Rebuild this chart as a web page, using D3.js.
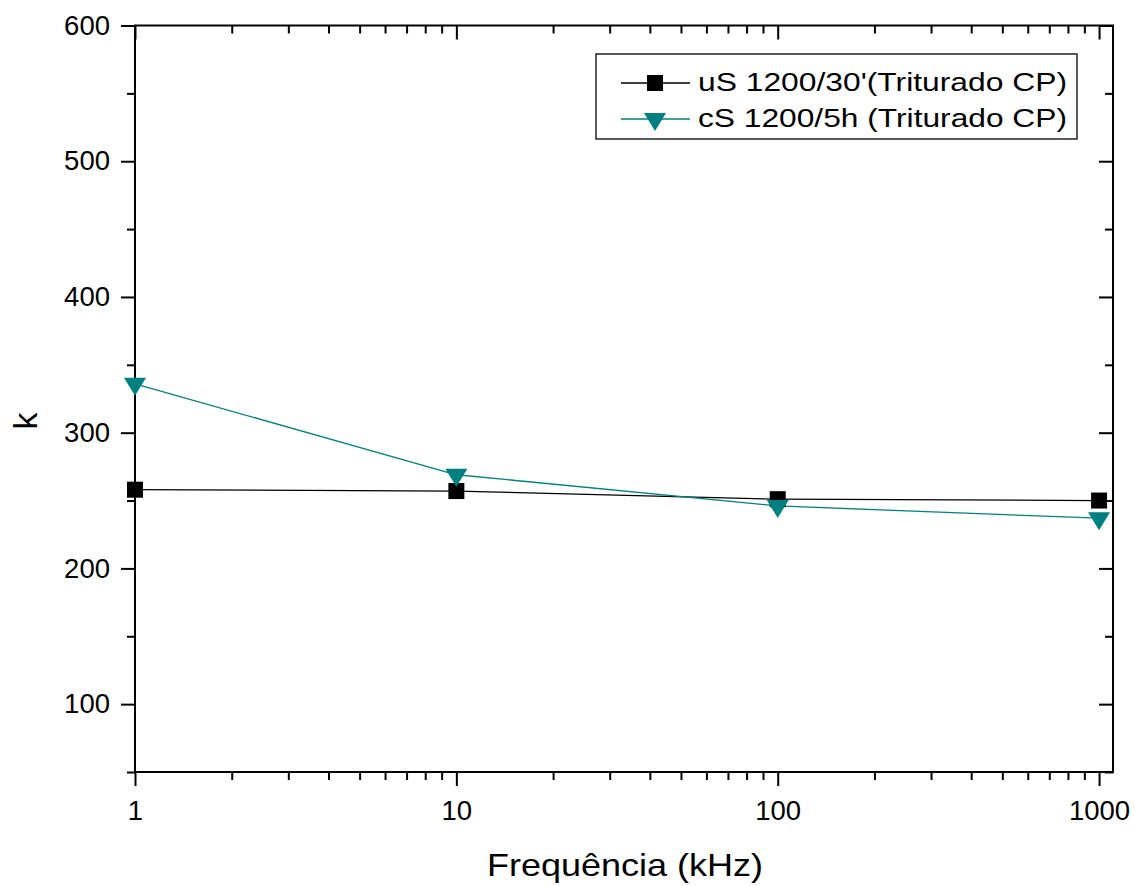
<!DOCTYPE html>
<html><head><meta charset="utf-8">
<script src="https://cdn.jsdelivr.net/npm/d3@7"></script>
<style>body{margin:0;background:#fff}svg{display:block}text{font-family:"Liberation Sans",Arial,sans-serif;fill:#000}</style>
</head><body><svg id="c" width="1135" height="886"></svg>
<script>
const freqs = [1, 10, 100, 1000];
const seriesUS = [258, 257, 251, 250];
const seriesCS = [336, 269, 246, 237];
const seriesNames = ["uS 1200/30'(Triturado CP)", "cS 1200/5h (Triturado CP)"];
const yTicks = [100, 200, 300, 400, 500, 600];
const xTicks = [1, 10, 100, 1000];

const svg = d3.select("#c");
const L = 135, R = 1113, T = 25.5, B = 772;
const x = d3.scaleLog().domain([1, 1105]).range([L, R]);
const y = d3.scaleLinear().domain([50, 600]).range([B, T]);
const teal = "#008080";

const minorX = [];
for (let d = 1; d <= 1000; d *= 10) for (let m = 2; m <= 9; m++) if (d * m <= 1105) minorX.push(d * m);
const minorY = d3.range(50, 601, 50).filter(v => v % 100 !== 0);

function axisStyle(g) {
  g.attr("font-size", null).attr("font-family", null);
  g.select(".domain").remove();
  g.selectAll("line").attr("stroke", "#000").attr("stroke-width", 2);
  g.selectAll("text").style("font-size", "27px").style("font-family", "Liberation Sans, Arial, sans-serif")
    .attr("textLength", function () { return this.textContent.length * 15.3; })
    .attr("lengthAdjust", "spacingAndGlyphs");
}
// bottom
svg.append("g").attr("transform", `translate(0,${B})`)
  .call(d3.axisBottom(x).tickValues(xTicks).tickFormat(d3.format("d")).tickSize(14).tickPadding(15)).call(axisStyle);
svg.append("g").attr("transform", `translate(0,${B})`)
  .call(d3.axisBottom(x).tickValues(minorX).tickFormat("").tickSize(8)).call(axisStyle);
// top (inward)
svg.append("g").attr("transform", `translate(0,${T})`)
  .call(d3.axisBottom(x).tickValues(xTicks).tickFormat("").tickSize(14)).call(axisStyle);
svg.append("g").attr("transform", `translate(0,${T})`)
  .call(d3.axisBottom(x).tickValues(minorX).tickFormat("").tickSize(8)).call(axisStyle);
// left
svg.append("g").attr("transform", `translate(${L},0)`)
  .call(d3.axisLeft(y).tickValues(yTicks).tickSize(14).tickPadding(11)).call(axisStyle);
svg.append("g").attr("transform", `translate(${L},0)`)
  .call(d3.axisLeft(y).tickValues(minorY).tickFormat("").tickSize(8)).call(axisStyle);
// right (inward)
svg.append("g").attr("transform", `translate(${R},0)`)
  .call(d3.axisLeft(y).tickValues(yTicks).tickFormat("").tickSize(14)).call(axisStyle);
svg.append("g").attr("transform", `translate(${R},0)`)
  .call(d3.axisLeft(y).tickValues(minorY).tickFormat("").tickSize(8)).call(axisStyle);
// frame
svg.append("rect").attr("x", L).attr("y", T).attr("width", R - L).attr("height", B - T)
  .attr("fill", "none").attr("stroke", "#000").attr("stroke-width", 2);

const line = d3.line().x((d, i) => x(freqs[i])).y(d => y(d));
svg.append("path").datum(seriesUS).attr("d", line).attr("fill", "none").attr("stroke", "#000").attr("stroke-width", 1.3);
svg.append("path").datum(seriesCS).attr("d", line).attr("fill", "none").attr("stroke", teal).attr("stroke-width", 1.3);

const sq = 16;
function square(g, cx, cy) {
  g.append("rect").attr("x", cx - sq / 2).attr("y", cy - sq / 2).attr("width", sq).attr("height", sq).attr("fill", "#000");
}
function tri(g, cx, cy) {
  const w = 22, h = 18;
  g.append("path").attr("d", `M${cx - w / 2},${cy - h / 3}L${cx + w / 2},${cy - h / 3}L${cx},${cy + 2 * h / 3}Z`).attr("fill", teal);
}
const mk = svg.append("g");
seriesUS.forEach((v, i) => square(mk, x(freqs[i]), y(v)));
seriesCS.forEach((v, i) => tri(mk, x(freqs[i]), y(v)));

// legend
const lg = svg.append("g");
lg.append("rect").attr("x", 596).attr("y", 54).attr("width", 481).attr("height", 85)
  .attr("fill", "#fff").attr("stroke", "#000").attr("stroke-width", 1.3);
const rows = [83, 119];
const textW = [369, 369];
lg.append("line").attr("x1", 621).attr("x2", 690).attr("y1", rows[0]).attr("y2", rows[0]).attr("stroke", "#000").attr("stroke-width", 1.3);
square(lg, 655, rows[0]);
lg.append("line").attr("x1", 621).attr("x2", 690).attr("y1", rows[1]).attr("y2", rows[1]).attr("stroke", teal).attr("stroke-width", 1.3);
tri(lg, 655, rows[1]);
seriesNames.forEach((n, i) => lg.append("text").attr("x", 698).attr("y", rows[i] + 8)
  .attr("font-size", 26).attr("textLength", textW[i]).attr("lengthAdjust", "spacingAndGlyphs").text(n));

// axis titles
svg.append("text").attr("x", 487).attr("y", 876).attr("font-size", 32)
  .attr("textLength", 276).attr("lengthAdjust", "spacingAndGlyphs").text("Frequência (kHz)");
svg.append("text").attr("transform", "translate(37,421) rotate(-90)").attr("text-anchor", "middle").attr("font-size", 34).text("k");
</script></body></html>
